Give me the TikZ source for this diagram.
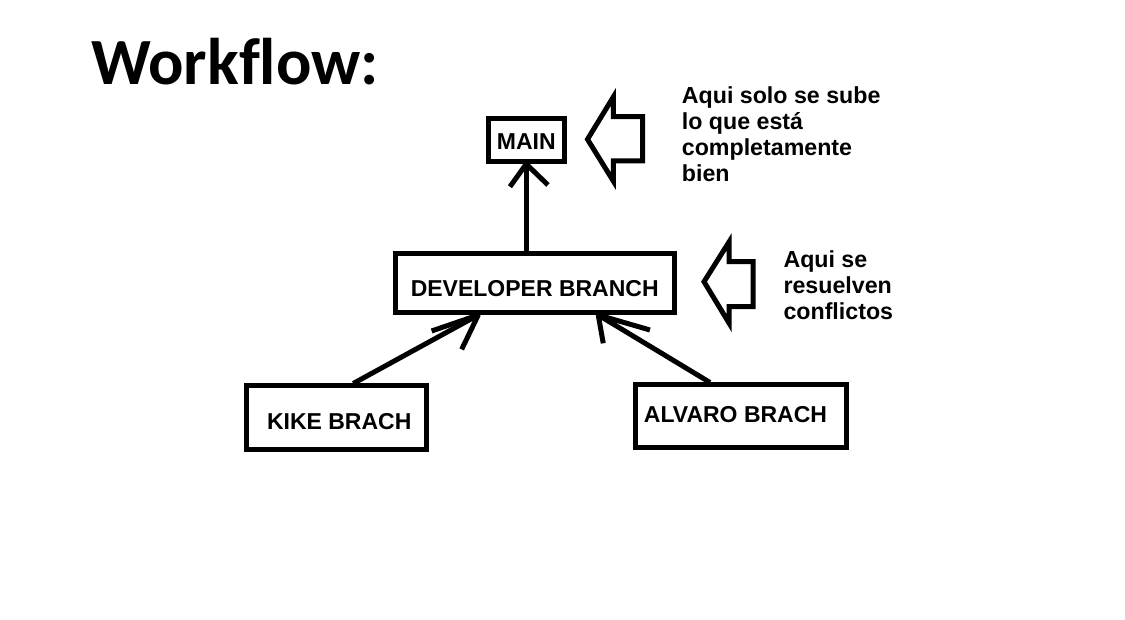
\documentclass[tikz,border=0pt]{standalone}
\usepackage{fontspec}
\setmainfont{Liberation Sans}
\newfontfamily\titlefont[Ligatures=NoCommon]{Carlito}
\usetikzlibrary{calc}
\begin{document}
\begin{tikzpicture}[x=1pt,y=1pt,
  box/.style={draw, line width=5pt, rectangle, inner sep=0pt, text depth=0pt,
              font=\fontsize{23}{26}\selectfont\bfseries},
  conn/.style={line width=5pt, line join=round},
  note/.style={anchor=base west, align=left, inner sep=0pt,
               font=\fontsize{23.2}{26}\selectfont\bfseries},
  hollow/.style={line width=5pt, line join=miter}]
\fill[white] (0,0) rectangle (1125,-620);
\useasboundingbox (0,0) rectangle (1125,-620);
\node[anchor=base west, inner sep=0pt, font=\titlefont\fontsize{66}{66}\selectfont\bfseries] (title) at (91,-85) {Workflow:};
\node[box, minimum width=75.5pt, minimum height=43pt, text height=20pt] (main) at (526.25,-140) {MAIN};
\node[box, minimum width=278.5pt, minimum height=58.5pt, text height=27.5pt] (dev) at (534.75,-283.25) {DEVELOPER BRANCH};
\node[box, minimum width=180.5pt, minimum height=63pt, text height=23pt] (kike) at (336.25,-417.5) {\hspace*{6pt}KIKE BRACH};
\node[box, minimum width=211pt, minimum height=62.5pt, text height=12pt] (alvaro) at (740.5,-416.25) {\hspace*{-10pt}ALVARO BRACH};
% connectors
\draw[conn] (dev.north -| main.south) -- (main.south);
\draw[conn] ($(main.south)+(-16.3,-22.7)$) -- (main.south) -- ($(main.south)+(21.7,-21)$);
\draw[conn] ($(kike.north)+(17,0)$) -- ($(dev.south)+(-56.5,0)$);
\draw[conn] ($(dev.south)+(-56.5,0)+(-46.6,-16)$) -- ($(dev.south)+(-56.5,0)$) -- ($(dev.south)+(-56.5,0)+(-16.6,-34.4)$);
\draw[conn] ($(alvaro.north)+(-30.5,0)$) -- ($(dev.south)+(63.5,0)$);
\draw[conn] ($(dev.south)+(63.5,0)+(5,-28.3)$) -- ($(dev.south)+(63.5,0)$) -- ($(dev.south)+(63.5,0)+(51.7,-15)$);
% hollow arrows
\draw[hollow] (587.5,-139.3) -- (613.3,-97) -- (613.3,-116.7) -- (642.5,-116.7) -- (642.5,-161) -- (613.3,-161) -- (613.3,-181) -- cycle;
\draw[hollow] (704,-281.7) -- (729,-242) -- (729,-261.7) -- (753,-261.7) -- (753,-306.7) -- (729,-306.7) -- (729,-323) -- cycle;
% notes
\node[note] (note1) at (681.7,-181.3) {Aqui solo se sube\\lo que está\\completamente\\bien};
\node[note] (note2) at (783.3,-319.3) {Aqui se\\resuelven\\conflictos};
\end{tikzpicture}
\end{document}
